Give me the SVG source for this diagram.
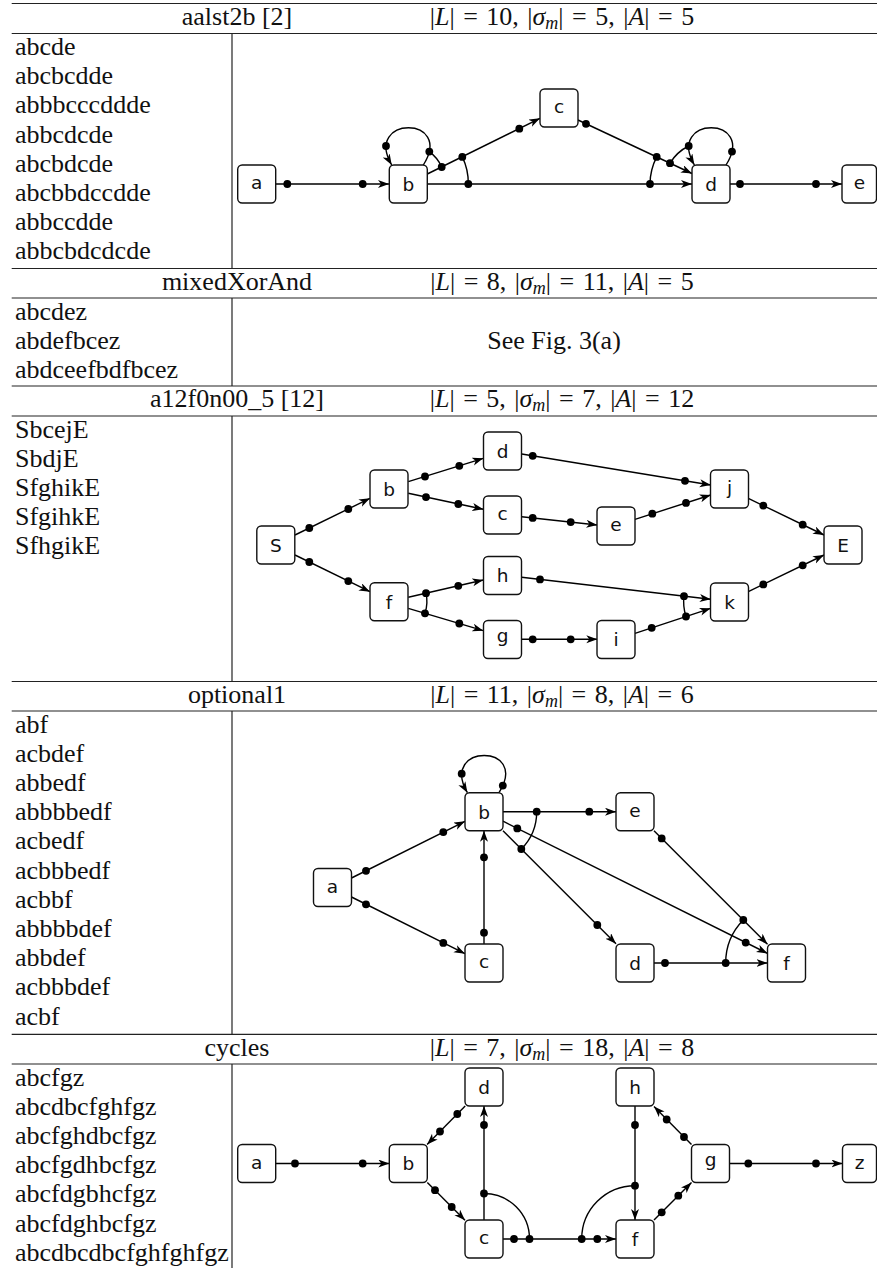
<svg xmlns="http://www.w3.org/2000/svg" width="877" height="1268" viewBox="0 0 877 1268">
<style>
.rule{stroke:#222;stroke-width:1.2;fill:none}
.t{font-family:"Liberation Serif","Times New Roman",serif;font-size:26px;fill:#111}
.f{word-spacing:2px}
.mi{font-style:italic}
.sub{font-style:italic;font-size:18px}
.node rect{fill:#fff;stroke:#111;stroke-width:1.4}
.node text{font-family:"DejaVu Sans","Noto Sans",sans-serif;font-size:18.5px;fill:#111;text-anchor:middle}
.edge{stroke:#000;stroke-width:1.4;fill:none}
.arr{marker-end:url(#ah)}
.dot{fill:#000}
</style>
<defs>
<marker id="ah" markerUnits="userSpaceOnUse" markerWidth="12" markerHeight="9" refX="11" refY="4" orient="auto">
<path d="M0,0 L11,4 L0,8 L3,4 Z" fill="#000"/>
</marker>
</defs>
<rect width="877" height="1268" fill="#fff"/>
<g id="table">
<line class="rule" x1="11.7" y1="3.5" x2="877" y2="3.5"/>
<line class="rule" x1="11.7" y1="33.5" x2="877" y2="33.5"/>
<line class="rule" x1="11.7" y1="268.5" x2="877" y2="268.5"/>
<line class="rule" x1="11.7" y1="298" x2="877" y2="298"/>
<line class="rule" x1="11.7" y1="386" x2="877" y2="386"/>
<line class="rule" x1="11.7" y1="416" x2="877" y2="416"/>
<line class="rule" x1="11.7" y1="681.5" x2="877" y2="681.5"/>
<line class="rule" x1="11.7" y1="711" x2="877" y2="711"/>
<line class="rule" x1="11.7" y1="1034.3" x2="877" y2="1034.3"/>
<line class="rule" x1="11.7" y1="1064" x2="877" y2="1064"/>
<line class="rule" x1="232" y1="33.5" x2="232" y2="268.5"/>
<line class="rule" x1="232" y1="298" x2="232" y2="386"/>
<line class="rule" x1="232" y1="416" x2="232" y2="681.5"/>
<line class="rule" x1="232" y1="711" x2="232" y2="1034.3"/>
<line class="rule" x1="232" y1="1064" x2="232" y2="1268"/>
</g>
<g id="headers">
<text class="t" x="237" y="24.5" text-anchor="middle">aalst2b [2]</text>
<text class="t f" x="562" y="24.5" text-anchor="middle">|<tspan class="mi">L</tspan>| = 10, |<tspan class="mi">σ</tspan><tspan class="sub" dy="4">m</tspan><tspan dy="-4">|</tspan> = 5, |<tspan class="mi">A</tspan>| = 5</text>
<text class="t" x="237" y="289.5" text-anchor="middle">mixedXorAnd</text>
<text class="t f" x="562" y="289.5" text-anchor="middle">|<tspan class="mi">L</tspan>| = 8, |<tspan class="mi">σ</tspan><tspan class="sub" dy="4">m</tspan><tspan dy="-4">|</tspan> = 11, |<tspan class="mi">A</tspan>| = 5</text>
<text class="t" x="237" y="407" text-anchor="middle">a12f0n00_5 [12]</text>
<text class="t f" x="562" y="407" text-anchor="middle">|<tspan class="mi">L</tspan>| = 5, |<tspan class="mi">σ</tspan><tspan class="sub" dy="4">m</tspan><tspan dy="-4">|</tspan> = 7, |<tspan class="mi">A</tspan>| = 12</text>
<text class="t" x="237" y="702.5" text-anchor="middle">optional1</text>
<text class="t f" x="562" y="702.5" text-anchor="middle">|<tspan class="mi">L</tspan>| = 11, |<tspan class="mi">σ</tspan><tspan class="sub" dy="4">m</tspan><tspan dy="-4">|</tspan> = 8, |<tspan class="mi">A</tspan>| = 6</text>
<text class="t" x="237" y="1055.5" text-anchor="middle">cycles</text>
<text class="t f" x="562" y="1055.5" text-anchor="middle">|<tspan class="mi">L</tspan>| = 7, |<tspan class="mi">σ</tspan><tspan class="sub" dy="4">m</tspan><tspan dy="-4">|</tspan> = 18, |<tspan class="mi">A</tspan>| = 8</text>
</g>
<g id="logs">
<text class="t" x="15" y="55">abcde</text>
<text class="t" x="15" y="84.2">abcbcdde</text>
<text class="t" x="15" y="113.4">abbbcccddde</text>
<text class="t" x="15" y="142.6">abbcdcde</text>
<text class="t" x="15" y="171.8">abcbdcde</text>
<text class="t" x="15" y="201">abcbbdccdde</text>
<text class="t" x="15" y="230.2">abbccdde</text>
<text class="t" x="15" y="259.4">abbcbdcdcde</text>
<text class="t" x="15" y="319.5">abcdez</text>
<text class="t" x="15" y="348.7">abdefbcez</text>
<text class="t" x="15" y="377.9">abdceefbdfbcez</text>
<text class="t" x="554" y="348.7" text-anchor="middle">See Fig. 3(a)</text>
<text class="t" x="15" y="437.5">SbcejE</text>
<text class="t" x="15" y="466.7">SbdjE</text>
<text class="t" x="15" y="495.9">SfghikE</text>
<text class="t" x="15" y="525.1">SfgihkE</text>
<text class="t" x="15" y="554.3">SfhgikE</text>
<text class="t" x="15" y="732.5">abf</text>
<text class="t" x="15" y="761.7">acbdef</text>
<text class="t" x="15" y="790.9">abbedf</text>
<text class="t" x="15" y="820.1">abbbbedf</text>
<text class="t" x="15" y="849.3">acbedf</text>
<text class="t" x="15" y="878.5">acbbbedf</text>
<text class="t" x="15" y="907.7">acbbf</text>
<text class="t" x="15" y="936.9">abbbbdef</text>
<text class="t" x="15" y="966.1">abbdef</text>
<text class="t" x="15" y="995.3">acbbbdef</text>
<text class="t" x="15" y="1024.5">acbf</text>
<text class="t" x="15" y="1085.5">abcfgz</text>
<text class="t" x="15" y="1114.7">abcdbcfghfgz</text>
<text class="t" x="15" y="1143.9">abcfghdbcfgz</text>
<text class="t" x="15" y="1173.1">abcfgdhbcfgz</text>
<text class="t" x="15" y="1202.3">abcfdgbhcfgz</text>
<text class="t" x="15" y="1231.5">abcfdghbcfgz</text>
<text class="t" x="15" y="1260.7">abcdbcdbcfghfghfgz</text>
</g>
<g id="connectors">
<!-- graph 1 -->
<line class="edge arr" x1="276" y1="184" x2="389" y2="184"/>
<line class="edge arr" x1="427.3" y1="184" x2="692" y2="184"/>
<line class="edge arr" x1="427.3" y1="174" x2="540" y2="118.3"/>
<line class="edge arr" x1="578" y1="120" x2="692" y2="173.5"/>
<line class="edge arr" x1="730" y1="184" x2="842" y2="184"/>
<path class="edge arr" d="M423.3,165 C454.7,115.3 362.9,115.3 391.7,165"/>
<path class="edge arr" d="M726,165 C757.4,115.3 665.6,115.3 694.4,165"/>
<path class="edge" d="M429.3,151.6 A38,38 0 0 1 441.7,167"/>
<path class="edge" d="M462.3,156.9 A60.3,60.3 0 0 1 468.3,184"/>
<path class="edge" d="M688.7,146 A45,45 0 0 0 670,163.2"/>
<path class="edge" d="M656.7,156.9 A60.8,60.8 0 0 0 650,184"/>
<g class="dot">
<circle cx="287.3" cy="184" r="3.9"/><circle cx="362.7" cy="184" r="3.9"/>
<circle cx="468.3" cy="184" r="3.9"/><circle cx="650" cy="184" r="3.9"/>
<circle cx="441.7" cy="167" r="3.9"/><circle cx="462.3" cy="156.9" r="3.9"/><circle cx="519.3" cy="128.7" r="3.9"/>
<circle cx="586" cy="123.8" r="3.9"/><circle cx="656.7" cy="156.9" r="3.9"/><circle cx="670" cy="163.2" r="3.9"/>
<circle cx="740" cy="184" r="3.9"/><circle cx="816" cy="184" r="3.9"/>
<circle cx="429.3" cy="151.6" r="3.9"/><circle cx="386" cy="146" r="3.9"/>
<circle cx="732" cy="151.6" r="3.9"/><circle cx="688.7" cy="146" r="3.9"/>
</g>
<!-- graph 3 -->
<line class="edge arr" x1="295" y1="535" x2="370" y2="498.3"/>
<line class="edge arr" x1="295" y1="555" x2="370" y2="591.7"/>
<line class="edge arr" x1="408.3" y1="481.7" x2="483.3" y2="458.3"/>
<line class="edge arr" x1="408.3" y1="493.3" x2="483.3" y2="509.3"/>
<line class="edge arr" x1="521.7" y1="454" x2="710.7" y2="485"/>
<line class="edge arr" x1="521.7" y1="516.7" x2="597.3" y2="525"/>
<line class="edge arr" x1="635" y1="519.3" x2="710.7" y2="495"/>
<line class="edge arr" x1="748.3" y1="498.3" x2="824" y2="535"/>
<line class="edge arr" x1="748.3" y1="591.7" x2="824" y2="555"/>
<line class="edge arr" x1="408.3" y1="597.3" x2="483.3" y2="580"/>
<line class="edge arr" x1="408.3" y1="608.3" x2="483.3" y2="630.7"/>
<line class="edge arr" x1="521.7" y1="577.3" x2="710.7" y2="599.3"/>
<line class="edge arr" x1="521.7" y1="639.3" x2="597.3" y2="639.3"/>
<line class="edge arr" x1="635" y1="633.3" x2="710.7" y2="608.3"/>
<path class="edge" d="M426,593.2 A37.9,37.9 0 0 1 425,613.3"/>
<path class="edge" d="M684,596.2 A45.9,45.9 0 0 0 686,616.5"/>
<g class="dot">
<circle cx="309.3" cy="528" r="3.9"/><circle cx="348.3" cy="509" r="3.9"/>
<circle cx="309.3" cy="562" r="3.9"/><circle cx="348.3" cy="581.1" r="3.9"/>
<circle cx="425" cy="476.5" r="3.9"/><circle cx="459.3" cy="465.8" r="3.9"/>
<circle cx="426" cy="497.1" r="3.9"/><circle cx="458.3" cy="504" r="3.9"/>
<circle cx="532.7" cy="455.8" r="3.9"/><circle cx="685" cy="480.8" r="3.9"/>
<circle cx="532.7" cy="517.9" r="3.9"/><circle cx="570.7" cy="522.1" r="3.9"/>
<circle cx="652.3" cy="513.7" r="3.9"/><circle cx="686" cy="502.9" r="3.9"/>
<circle cx="763.3" cy="505.6" r="3.9"/><circle cx="802.7" cy="524.7" r="3.9"/>
<circle cx="763.3" cy="584.4" r="3.9"/><circle cx="802.7" cy="565.3" r="3.9"/>
<circle cx="426" cy="593.2" r="3.9"/><circle cx="458.3" cy="585.8" r="3.9"/>
<circle cx="425" cy="613.3" r="3.9"/><circle cx="459.3" cy="623.5" r="3.9"/>
<circle cx="540" cy="579.4" r="3.9"/><circle cx="684" cy="596.2" r="3.9"/>
<circle cx="532.7" cy="639.3" r="3.9"/><circle cx="570.7" cy="639.3" r="3.9"/>
<circle cx="651.7" cy="627.8" r="3.9"/><circle cx="686" cy="616.5" r="3.9"/>
</g>
<!-- graph 4 -->
<line class="edge arr" x1="351.5" y1="878" x2="465" y2="821.3"/>
<line class="edge arr" x1="351.5" y1="897" x2="465" y2="953.7"/>
<line class="edge arr" x1="484" y1="944" x2="484" y2="830.7"/>
<line class="edge arr" x1="503" y1="811.7" x2="616" y2="811.7"/>
<line class="edge arr" x1="503" y1="821.2" x2="767.5" y2="953.4"/>
<line class="edge arr" x1="503" y1="830.7" x2="616" y2="943.7"/>
<line class="edge arr" x1="654" y1="830.7" x2="767.5" y2="944.2"/>
<line class="edge arr" x1="654" y1="963" x2="767.5" y2="963"/>
<path class="edge arr" d="M499,792.7 C530.4,743 438.6,743 467.4,792.7"/>
<path class="edge" d="M536.7,811.7 A52.7,52.7 0 0 1 521.3,849"/>
<path class="edge" d="M743.3,920 A60.9,60.9 0 0 0 725.7,963"/>
<g class="dot">
<circle cx="366" cy="870.8" r="3.9"/><circle cx="443.3" cy="832.1" r="3.9"/>
<circle cx="366" cy="904.3" r="3.9"/><circle cx="443.3" cy="942.9" r="3.9"/>
<circle cx="484" cy="932.7" r="3.9"/><circle cx="484" cy="857.3" r="3.9"/>
<circle cx="536.7" cy="811.7" r="3.9"/><circle cx="589.3" cy="811.7" r="3.9"/>
<circle cx="517.3" cy="828.4" r="3.9"/><circle cx="745.7" cy="942.6" r="3.9"/>
<circle cx="521.3" cy="849" r="3.9"/><circle cx="597.3" cy="925" r="3.9"/>
<circle cx="661.7" cy="838.4" r="3.9"/><circle cx="743.3" cy="920" r="3.9"/>
<circle cx="665" cy="963" r="3.9"/><circle cx="725.7" cy="963" r="3.9"/>
<circle cx="502.8" cy="785.6" r="3.9"/><circle cx="461.7" cy="773.7" r="3.9"/>
</g>
<!-- graph 5 -->
<line class="edge arr" x1="276" y1="1163.5" x2="389.3" y2="1163.5"/>
<line class="edge arr" x1="465.2" y1="1106" x2="427.1" y2="1144.5"/>
<line class="edge arr" x1="427.3" y1="1182.5" x2="465" y2="1220.3"/>
<line class="edge arr" x1="484" y1="1220" x2="484" y2="1106"/>
<line class="edge arr" x1="503" y1="1239" x2="616" y2="1239"/>
<line class="edge arr" x1="635" y1="1106" x2="635" y2="1220"/>
<line class="edge arr" x1="654" y1="1220" x2="691.5" y2="1182.5"/>
<line class="edge arr" x1="691.5" y1="1144.5" x2="654" y2="1106.5"/>
<line class="edge arr" x1="729.5" y1="1163.5" x2="842.5" y2="1163.5"/>
<path class="edge" d="M484,1193.5 A45.5,45.5 0 0 1 529.5,1239"/>
<path class="edge" d="M635,1185.7 A53.3,53.3 0 0 0 581.7,1239"/>
<g class="dot">
<circle cx="295" cy="1163.5" r="3.9"/><circle cx="362.7" cy="1163.5" r="3.9"/>
<circle cx="457.3" cy="1114" r="3.9"/><circle cx="440" cy="1131.5" r="3.9"/>
<circle cx="435" cy="1190.2" r="3.9"/><circle cx="451.7" cy="1207" r="3.9"/>
<circle cx="484" cy="1193.5" r="3.9"/><circle cx="484" cy="1125" r="3.9"/>
<circle cx="514" cy="1239" r="3.9"/><circle cx="529.5" cy="1239" r="3.9"/>
<circle cx="581.7" cy="1239" r="3.9"/><circle cx="597.3" cy="1239" r="3.9"/>
<circle cx="635" cy="1125" r="3.9"/><circle cx="635" cy="1185.7" r="3.9"/>
<circle cx="661.7" cy="1212.3" r="3.9"/><circle cx="678.3" cy="1195.7" r="3.9"/>
<circle cx="684" cy="1137" r="3.9"/><circle cx="666.7" cy="1119.5" r="3.9"/>
<circle cx="748.3" cy="1163.5" r="3.9"/><circle cx="816" cy="1163.5" r="3.9"/>
</g>
</g>
<g id="g1-a" class="node"><rect x="237.7" y="165" width="38" height="38" rx="4.5"/><text x="256.7" y="189">a</text></g>
<g id="g1-b" class="node"><rect x="389.3" y="165" width="38" height="38" rx="4.5"/><text x="408.3" y="191">b</text></g>
<g id="g1-c" class="node"><rect x="540" y="89" width="38" height="38" rx="4.5"/><text x="559" y="113">c</text></g>
<g id="g1-d" class="node"><rect x="692" y="165" width="38" height="38" rx="4.5"/><text x="711" y="191">d</text></g>
<g id="g1-e" class="node"><rect x="842" y="165" width="34.5" height="38" rx="4.5"/><text x="859.5" y="189">e</text></g>
<g id="g3-S" class="node"><rect x="256.8" y="526" width="38" height="38" rx="4.5"/><text x="275.8" y="551.6">S</text></g>
<g id="g3-b" class="node"><rect x="370" y="470" width="38" height="38" rx="4.5"/><text x="389" y="495.8">b</text></g>
<g id="g3-d" class="node"><rect x="483.5" y="432" width="38" height="38" rx="4.5"/><text x="502.5" y="457.8">d</text></g>
<g id="g3-c" class="node"><rect x="483.5" y="496" width="38" height="38" rx="4.5"/><text x="502.5" y="520">c</text></g>
<g id="g3-h" class="node"><rect x="483.5" y="556.5" width="38" height="38" rx="4.5"/><text x="502.5" y="582.3">h</text></g>
<g id="g3-f" class="node"><rect x="370" y="582.7" width="38" height="38" rx="4.5"/><text x="389" y="608.5">f</text></g>
<g id="g3-g" class="node"><rect x="483.5" y="620.5" width="38" height="38" rx="4.5"/><text x="502.5" y="642.3">g</text></g>
<g id="g3-e" class="node"><rect x="597" y="507" width="38" height="38" rx="4.5"/><text x="616" y="531">e</text></g>
<g id="g3-i" class="node"><rect x="597" y="620.5" width="38" height="38" rx="4.5"/><text x="616" y="646.3">i</text></g>
<g id="g3-j" class="node"><rect x="710.5" y="470" width="38" height="38" rx="4.5"/><text x="729.5" y="493.8">j</text></g>
<g id="g3-k" class="node"><rect x="710.5" y="583" width="38" height="38" rx="4.5"/><text x="729.5" y="608.8">k</text></g>
<g id="g3-E" class="node"><rect x="824" y="526" width="38" height="38" rx="4.5"/><text x="843" y="551.6">E</text></g>
<g id="g4-a" class="node"><rect x="313.5" y="868.5" width="38" height="38" rx="4.5"/><text x="332.5" y="892.5">a</text></g>
<g id="g4-b" class="node"><rect x="465" y="792.7" width="38" height="38" rx="4.5"/><text x="484" y="818.5">b</text></g>
<g id="g4-c" class="node"><rect x="465" y="944" width="38" height="38" rx="4.5"/><text x="484" y="968">c</text></g>
<g id="g4-e" class="node"><rect x="616" y="792.7" width="38" height="38" rx="4.5"/><text x="635" y="816.7">e</text></g>
<g id="g4-d" class="node"><rect x="616" y="944" width="38" height="38" rx="4.5"/><text x="635" y="969.8">d</text></g>
<g id="g4-f" class="node"><rect x="767.5" y="944" width="38" height="38" rx="4.5"/><text x="786.5" y="969.8">f</text></g>
<g id="g5-a" class="node"><rect x="237.7" y="1144.5" width="38" height="38" rx="4.5"/><text x="256.7" y="1168.5">a</text></g>
<g id="g5-b" class="node"><rect x="389.3" y="1144.5" width="38" height="38" rx="4.5"/><text x="408.3" y="1170.3">b</text></g>
<g id="g5-d" class="node"><rect x="465" y="1068" width="38" height="38" rx="4.5"/><text x="484" y="1093.8">d</text></g>
<g id="g5-c" class="node"><rect x="465" y="1220" width="38" height="38" rx="4.5"/><text x="484" y="1244">c</text></g>
<g id="g5-h" class="node"><rect x="616" y="1068" width="38" height="38" rx="4.5"/><text x="635" y="1093.8">h</text></g>
<g id="g5-f" class="node"><rect x="616" y="1220" width="38" height="38" rx="4.5"/><text x="635" y="1245.8">f</text></g>
<g id="g5-g" class="node"><rect x="691.5" y="1144.5" width="38" height="38" rx="4.5"/><text x="710.5" y="1166">g</text></g>
<g id="g5-z" class="node"><rect x="842.5" y="1144.5" width="34" height="38" rx="4.5"/><text x="859.5" y="1168.5">z</text></g>
</svg>
